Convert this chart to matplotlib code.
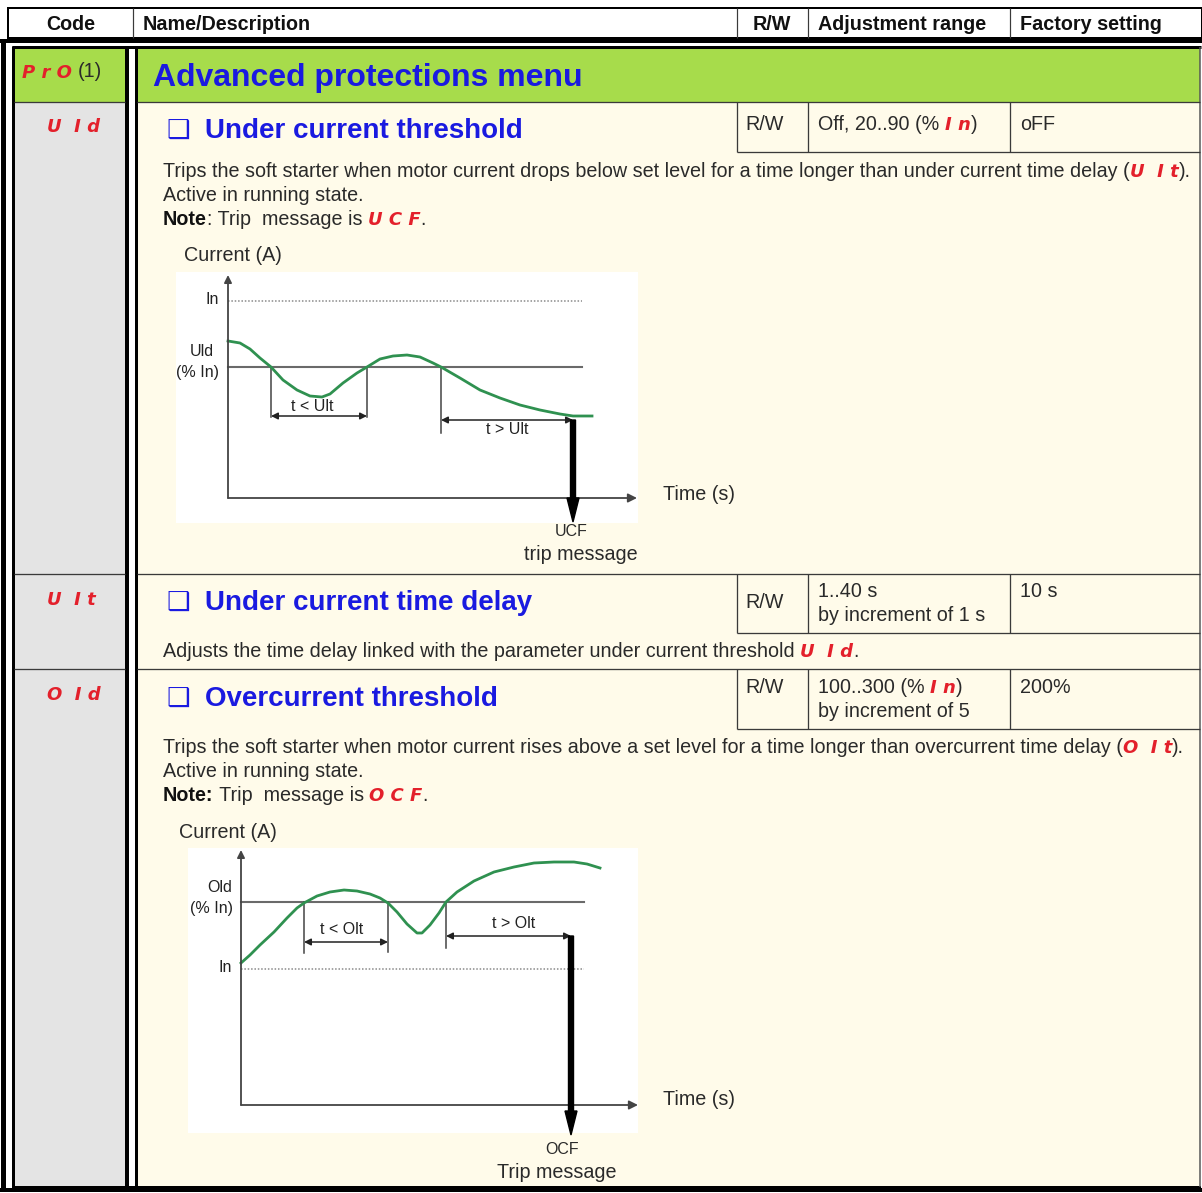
import matplotlib.pyplot as plt
from matplotlib.patches import Rectangle

plt.rcParams['font.family'] = ['Liberation Sans', 'DejaVu Sans']

# ---- table text ----
header_cols = ['Code', 'Name/Description', 'R/W', 'Adjustment range', 'Factory setting']
menu_code = 'P r O'
menu_title = 'Advanced protections menu'
param_codes = ['U  I d', 'U  I t', 'O  I d']
param_titles = ['Under current threshold', 'Under current time delay', 'Overcurrent threshold']
param_access = ['R/W', 'R/W', 'R/W']
param_factory = ['oFF', '10 s', '200%']

# ---- under current diagram (time, current) ----
uc_t = [0, 12, 22, 32, 43, 55, 69, 82, 94, 102, 115, 129, 139, 152, 165, 179,
        192, 205, 213, 232, 252, 272, 292, 312, 332, 345, 364]
uc_i = [157, 155, 149, 140, 131, 118, 108, 102, 101, 104, 115, 125, 131, 139,
        142, 143, 141, 135, 131, 120, 108, 100, 93, 88, 84, 82, 82]
uc_level = 131
uc_nominal = 197
uc_cross = [43, 139, 213]
uc_trip = 345

# ---- overcurrent diagram ----
oc_t = [0, 9, 19, 33, 46, 56, 63, 76, 89, 103, 116, 129, 139, 147, 156, 166,
        176, 181, 189, 198, 205, 216, 233, 253, 273, 293, 313, 333, 346, 359]
oc_i = [142, 150, 160, 173, 187, 197, 202, 209, 213, 215, 214, 211, 207, 202,
        193, 181, 172, 172, 180, 192, 203, 213, 224, 233, 238, 242, 243, 243, 241, 237]
oc_level = 203
oc_nominal = 136
oc_cross = [63, 147, 205]
oc_trip = 330

W, H = 1202, 1193
PX = 0.72
BLUE = '#1a1ae0'
RED = '#e3202b'
GREEN_BG = '#a7dc4b'
GRAY_BG = '#e4e4e4'
CREAM = '#fffbea'
LINE = '#3a3a3a'
CURVE = '#2f9150'
TXT = '#2a2a2a'

fig = plt.figure(figsize=(W / 100, H / 100), dpi=100)
ax = fig.add_axes([0, 0, 1, 1])
ax.set_xlim(0, W)
ax.set_ylim(H, 0)
ax.axis('off')
R = fig.canvas.get_renderer()

N = dict(size=14.2, color=TXT)
B = dict(size=14.2, color='#111111', weight='bold')
C = dict(size=13, color=RED, family='DejaVu Sans', style='oblique', weight='bold')
S = dict(size=11.5, color='#222222')


def rect(x0, y0, x1, y1, fc):
    ax.add_patch(Rectangle((x0, y0), x1 - x0, y1 - y0, fc=fc, ec='none', zorder=0))


def hline(y, x0, x1, lw, c='black'):
    ax.plot([x0, x1], [y, y], color=c, lw=lw * PX, solid_capstyle='butt')


def vline(x, y0, y1, lw, c='black'):
    ax.plot([x, x], [y0, y1], color=c, lw=lw * PX, solid_capstyle='butt')


def width(s, st):
    t1 = ax.text(0, 0, '|' + s + '|', **st)
    t2 = ax.text(0, 0, '||', **st)
    w = t1.get_window_extent(R).width - t2.get_window_extent(R).width
    t1.remove()
    t2.remove()
    return w


def write(x, y, parts):
    for s, st in parts:
        ax.text(x, y, s, va='baseline', **st)
        x += width(s, st)


# ---- backgrounds ----
rect(14, 47, 126, 102, GREEN_BG)
rect(136, 47, 1200, 102, GREEN_BG)
rect(14, 102, 126, 1187, GRAY_BG)
rect(136, 102, 1200, 1187, CREAM)

# ---- header ----
ax.add_patch(Rectangle((8, 8), 1194, 30, fc='white', ec='black', lw=2 * PX))
for x in [133, 737, 808, 1010]:
    vline(x, 8, 38, 1.2, LINE)
ax.text(71, 30, header_cols[0], ha='center', va='baseline', **B)
ax.text(143, 30, header_cols[1], va='baseline', **B)
ax.text(772, 30, header_cols[2], ha='center', va='baseline', **B)
ax.text(818, 30, header_cols[3], va='baseline', **B)
ax.text(1020, 30, header_cols[4], va='baseline', **B)

# ---- frame ----
hline(41, 0, W, 4)
vline(3, 40, 1191, 5)
hline(1190, 0, W, 4)
vline(13, 46, 1188, 3)
hline(47, 12, 1201, 3)
hline(1187, 12, 1201, 2)
vline(1200, 47, 1187, 1.5, '#555555')
vline(126.5, 46, 1188, 4)
vline(136, 46, 1188, 3)
for y in [102, 574, 669]:
    hline(y, 14, 125, 1.3, LINE)
    hline(y, 137, 1200, 1.3, LINE)
for top, bot in [(102, 152), (574, 633), (669, 729)]:
    for x in [737, 808, 1010]:
        vline(x, top, bot, 1.3, LINE)
    hline(bot, 737, 1200, 1.3, LINE)

# ---- menu row ----
ax.text(22, 78, menu_code, va='baseline', **C)
ax.text(78, 77, '(1)', va='baseline', **N)
ax.text(153, 86, menu_title, size=23, weight='bold', color=BLUE, va='baseline')

# ---- parameter rows ----
code_y = [132, 605, 700]
title_y = [138, 610, 706]
acc_y = [130, 608, 693]
fac_y = [130, 597, 693]
for k in range(3):
    ax.text(47, code_y[k], param_codes[k], va='baseline', **C)
    ax.text(166, title_y[k], '\u2751', family='DejaVu Sans', size=19,
            weight='bold', color=BLUE, va='baseline')
    ax.text(205, title_y[k], param_titles[k], size=20, weight='bold',
            color=BLUE, va='baseline')
    ax.text(745, acc_y[k], param_access[k], va='baseline', **N)
    ax.text(1020, fac_y[k], param_factory[k], va='baseline', **N)

write(818, 130, [('Off, 20..90 (% ', N), ('I n', C), (')', N)])
ax.text(818, 597, '1..40 s', va='baseline', **N)
ax.text(818, 621, 'by increment of 1 s', va='baseline', **N)
write(818, 693, [('100..300 (% ', N), ('I n', C), (')', N)])
ax.text(818, 717, 'by increment of 5', va='baseline', **N)

write(163, 177, [('Trips the soft starter when motor current drops below set level for a '
                  'time longer than under current time delay (', N), ('U  I t', C), (').', N)])
ax.text(163, 201, 'Active in running state.', va='baseline', **N)
write(163, 225, [('Note', B), (': Trip  message is ', N), ('U C F', C), ('.', N)])

write(163, 657, [('Adjusts the time delay linked with the parameter under current threshold ', N),
                 ('U  I d', C), ('.', N)])

write(163, 753, [('Trips the soft starter when motor current rises above a set level for a '
                  'time longer than overcurrent time delay (', N), ('O  I t', C), (').', N)])
ax.text(163, 777, 'Active in running state.', va='baseline', **N)
write(163, 801, [('Note:', B), (' Trip  message is ', N), ('O C F', C), ('.', N)])

# ---- diagrams ----
rect(176, 272, 638, 523, 'white')
rect(188, 848, 638, 1133, 'white')
ax.text(184, 261, 'Current (A)', va='baseline', **N)
ax.text(179, 838, 'Current (A)', va='baseline', **N)
ax.text(663, 500, 'Time (s)', va='baseline', **N)
ax.text(663, 1105, 'Time (s)', va='baseline', **N)
ax.text(571, 531, 'UCF', ha='center', va='center', size=11.5, color=TXT)
ax.text(581, 554, 'trip message', ha='center', va='center', **N)
ax.text(562, 1150, 'OCF', ha='center', va='center', size=11.5, color=TXT)
ax.text(557, 1173, 'Trip message', ha='center', va='center', **N)


def diagram(box, origin, t, i, level, nominal, line_end, cross, cross_bottom,
            trip, short_y, long_y, tip_y, top, right):
    x0, y0, x1, y1 = box
    ox, oy = origin
    d = fig.add_axes([x0 / W, 1 - y1 / H, (x1 - x0) / W, (y1 - y0) / H])
    d.set_xlim(x0 - ox, x1 - ox)
    d.set_ylim(oy - y1, oy - y0)
    d.axis('off')
    d.annotate('', xy=(right, 0), xytext=(0, 0),
               arrowprops=dict(arrowstyle='-|>', color='#444444', lw=1.3,
                               mutation_scale=13, shrinkA=0, shrinkB=0))
    d.annotate('', xy=(0, top), xytext=(0, 0),
               arrowprops=dict(arrowstyle='-|>', color='#444444', lw=1.3,
                               mutation_scale=11, shrinkA=0, shrinkB=0))
    d.plot([0, line_end], [level, level], color='#6a6a6a', lw=1.5)
    d.plot([0, line_end], [nominal, nominal], color='#8a8a8a', lw=1.1,
           ls=(0, (1, 1.2)))
    for x, b in zip(cross, cross_bottom):
        d.plot([x, x], [level, b], color='#444444', lw=1.1)
    d.annotate('', xy=(cross[1], short_y), xytext=(cross[0], short_y),
               arrowprops=dict(arrowstyle='<|-|>', color='#222222', lw=1.1,
                               mutation_scale=10, shrinkA=0, shrinkB=0))
    d.annotate('', xy=(trip, long_y), xytext=(cross[2], long_y),
               arrowprops=dict(arrowstyle='<|-|>', color='#222222', lw=1.1,
                               mutation_scale=10, shrinkA=0, shrinkB=0))
    d.plot(t, i, color=CURVE, lw=2.0, solid_joinstyle='round')
    d.arrow(trip, long_y, 0, tip_y - long_y, width=5, head_width=12,
            head_length=24, length_includes_head=True, color='black',
            clip_on=False, zorder=5)
    return d


d1 = diagram((176, 272, 638, 523), (228, 498), uc_t, uc_i, uc_level, uc_nominal,
             354, uc_cross, [81, 81, 65], uc_trip, 82, 78, -24, 223, 409)
d1.text(-9, uc_nominal + 1, 'In', ha='right', va='center', **S)
d1.text(-26, 146, 'Uld', ha='center', va='center', **S)
d1.text(-31, 125, '(% In)', ha='center', va='center', **S)
d1.text(84, 91, 't < Ult', ha='center', va='center', **S)
d1.text(279, 68, 't > Ult', ha='center', va='center', **S)

d2 = diagram((188, 848, 638, 1133), (241, 1105), oc_t, oc_i, oc_level, oc_nominal,
             343, oc_cross, [152, 153, 157], oc_trip, 163, 169, -30, 255, 397)
d2.text(-9, 217, 'Old', ha='right', va='center', **S)
d2.text(-8, 196, '(% In)', ha='right', va='center', **S)
d2.text(-9, oc_nominal + 1, 'In', ha='right', va='center', **S)
d2.text(101, 175, 't < Olt', ha='center', va='center', **S)
d2.text(273, 182, 't > Olt', ha='center', va='center', **S)

fig.savefig('out.png', dpi=100, facecolor='white')
